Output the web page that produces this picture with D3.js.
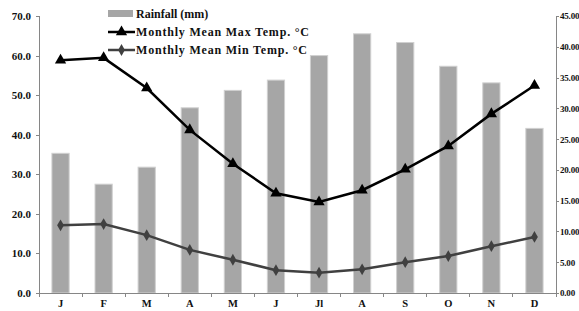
<!DOCTYPE html>
<html lang="en">
<head>
<meta charset="UTF-8">
<title>Rainfall and Temperature</title>
<script src="https://d3js.org/d3.v7.min.js"></script>
<style>
    body { margin: 0; background: #fff; }
    #chart { width: 579px; height: 311px; overflow: hidden; }
    text { font-family: "Liberation Serif", "Times New Roman", serif; font-weight: bold; fill: #111; }
    .axis path, .axis line { stroke: #868686; shape-rendering: crispEdges; }
</style>
</head>
<body>
<div id="chart"></div>
<script>
    const months = ["J", "F", "M", "A", "M", "J", "Jl", "A", "S", "O", "N", "D"];
    const rainfall = [35.3, 27.5, 31.8, 46.8, 51.2, 53.8, 60.0, 65.5, 63.3, 57.3, 53.1, 41.6];
    const maxTemp = [37.8, 38.2, 33.3, 26.5, 21.0, 16.2, 14.8, 16.7, 20.1, 23.9, 29.1, 33.7];
    const minTemp = [11.0, 11.2, 9.4, 7.0, 5.4, 3.7, 3.3, 3.85, 5.0, 6.0, 7.6, 9.1];
    const leftTicks = [0, 10, 20, 30, 40, 50, 60, 70];
    const rightTicks = [0, 5, 10, 15, 20, 25, 30, 35, 40, 45];

    const width = 579, height = 311;
    const margin = { top: 16, right: 23, bottom: 18, left: 39 };
    const plotW = width - margin.left - margin.right;
    const plotH = height - margin.top - margin.bottom;

    const svg = d3.select("#chart").append("svg")
        .attr("width", width)
        .attr("height", height);
    const g = svg.append("g")
        .attr("transform", `translate(${margin.left},${margin.top})`);

    const idx = months.map((m, i) => i);
    const x = d3.scaleBand().domain(idx).range([0, plotW]).paddingInner(0.6).paddingOuter(0.3);
    const xb = d3.scaleBand().domain(idx).range([0, plotW]);
    const yL = d3.scaleLinear().domain([0, 70]).range([plotH, 0]);
    const yR = d3.scaleLinear().domain([0, 45]).range([plotH, 0]);

    // bars
    g.selectAll(".bar").data(rainfall).enter().append("rect")
        .attr("class", "bar")
        .attr("x", (d, i) => x(i))
        .attr("y", d => yL(d))
        .attr("width", x.bandwidth())
        .attr("height", d => plotH - yL(d))
        .attr("fill", "#a6a6a6")
        .attr("stroke", "#d0d0d0")
        .attr("stroke-width", 1);

    // left axis
    const la = g.append("g").attr("class", "axis")
        .call(d3.axisLeft(yL).tickValues(leftTicks).tickFormat(d3.format(".1f")).tickSize(3).tickPadding(5));
    la.selectAll("text").style("font-size", "11px");

    // right axis
    const ra = g.append("g").attr("class", "axis")
        .attr("transform", `translate(${plotW},0)`)
        .call(d3.axisRight(yR).tickValues(rightTicks).tickFormat(d3.format(".2f")).tickSize(3).tickPadding(1));
    ra.selectAll("text").style("font-size", "9px").style("letter-spacing", "-0.2px");

    // bottom axis with ticks at band edges
    const xa = g.append("g").attr("class", "axis")
        .attr("transform", `translate(0,${plotH})`)
        .call(d3.axisBottom(xb).tickSize(0).tickPadding(7).tickFormat(i => months[i]));
    xa.selectAll("text").style("font-size", "10.5px");
    xa.selectAll(".edge").data(d3.range(13)).enter().append("line")
        .attr("class", "edge")
        .attr("x1", i => i * xb.step()).attr("x2", i => i * xb.step())
        .attr("y1", 0).attr("y2", 4)
        .attr("stroke", "#868686");

    const cx = i => xb(i) + xb.bandwidth() / 2;

    // min temp line
    const minLine = d3.line().x((d, i) => cx(i)).y(d => yR(d));
    g.append("path").datum(minTemp)
        .attr("d", minLine).attr("fill", "none")
        .attr("stroke", "#404040").attr("stroke-width", 2.5);
    g.selectAll(".minpt").data(minTemp).enter().append("path")
        .attr("class", "minpt")
        .attr("transform", (d, i) => `translate(${cx(i)},${yR(d)})`)
        .attr("d", d3.symbol().type(d3.symbolDiamond).size(40))
        .attr("fill", "#404040");

    // max temp line
    const maxLine = d3.line().x((d, i) => cx(i)).y(d => yR(d));
    g.append("path").datum(maxTemp)
        .attr("d", maxLine).attr("fill", "none")
        .attr("stroke", "#000").attr("stroke-width", 2.5);
    g.selectAll(".maxpt").data(maxTemp).enter().append("path")
        .attr("class", "maxpt")
        .attr("transform", (d, i) => `translate(${cx(i)},${yR(d)})`)
        .attr("d", d3.symbol().type(d3.symbolTriangle).size(55))
        .attr("fill", "#000");

    // legend
    const lg = svg.append("g").attr("transform", "translate(108,0)");
    lg.append("rect").attr("x", 0).attr("y", 10).attr("width", 25).attr("height", 7).attr("fill", "#a6a6a6");
    lg.append("text").attr("x", 28).attr("y", 18).style("font-size", "12px").text("Rainfall (mm)");

    lg.append("line").attr("x1", 0).attr("x2", 27).attr("y1", 32).attr("y2", 32)
        .attr("stroke", "#000").attr("stroke-width", 2.5);
    lg.append("path").attr("transform", "translate(13.5,32)")
        .attr("d", d3.symbol().type(d3.symbolTriangle).size(55)).attr("fill", "#000");
    lg.append("text").attr("x", 28).attr("y", 36).style("font-size", "12px")
        .style("letter-spacing", "0.8px").text("Monthly Mean Max Temp. °C");

    lg.append("line").attr("x1", 0).attr("x2", 27).attr("y1", 50).attr("y2", 50)
        .attr("stroke", "#404040").attr("stroke-width", 2.5);
    lg.append("path").attr("transform", "translate(13.5,50)")
        .attr("d", d3.symbol().type(d3.symbolDiamond).size(40)).attr("fill", "#404040");
    lg.append("text").attr("x", 28).attr("y", 54).style("font-size", "12px")
        .style("letter-spacing", "0.8px").text("Monthly Mean Min Temp. °C");
</script>
</body>
</html>
